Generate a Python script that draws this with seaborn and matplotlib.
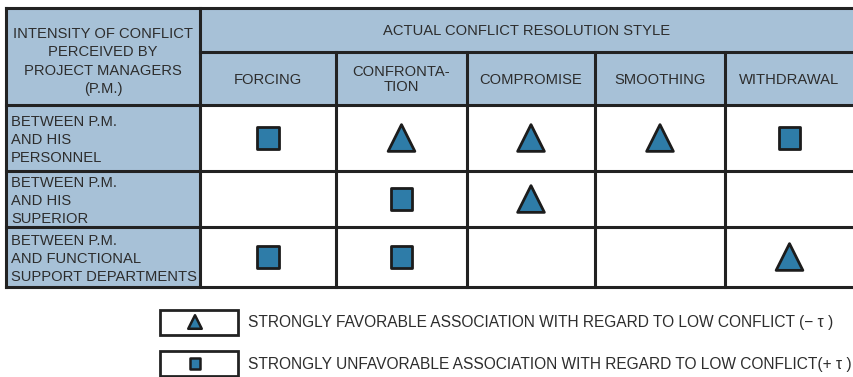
import pandas as pd
import seaborn as sns
import matplotlib.pyplot as plt
from matplotlib.patches import Rectangle

# Table content
styles = ["FORCING", "CONFRONTA-\nTION", "COMPROMISE", "SMOOTHING", "WITHDRAWAL"]
levels = ["BETWEEN P.M.\nAND HIS\nPERSONNEL",
          "BETWEEN P.M.\nAND HIS\nSUPERIOR",
          "BETWEEN P.M.\nAND FUNCTIONAL\nSUPPORT DEPARTMENTS"]
# "-" = strongly favorable (-tau, triangle), "+" = strongly unfavorable (+tau, square)
personnel = ["+", "-", "-", "-", "+"]
superior = ["", "+", "-", "", ""]
functional = ["+", "+", "", "", "-"]
legend_tau = ["-", "+"]
legend_text = ["STRONGLY FAVORABLE ASSOCIATION WITH REGARD TO LOW CONFLICT (\u2212 \u03c4 )",
               "STRONGLY UNFAVORABLE ASSOCIATION WITH REGARD TO LOW CONFLICT(+ \u03c4 )"]

# layout (pixels)
W, H = 854, 377
col_edges = [200, 336, 467, 595, 725, 854]
row_edges = [105, 171, 227, 287]
left, top, head_mid = 6, 8, 52
header_blue = "#a7c1d7"
mark_blue = "#2e7ca8"
line_c = "#222222"
text_c = "#2d2d2d"
fs = 10.6

plt.rcParams['font.family'] = ['Liberation Sans', 'DejaVu Sans']

fig = plt.figure(figsize=(W / 100, H / 100), dpi=100)
ax = fig.add_axes([0, 0, 1, 1])
ax.set_xlim(0, W)
ax.set_ylim(H, 0)
ax.axis("off")

# backgrounds
ax.add_patch(Rectangle((left, top), col_edges[0] - left, row_edges[-1] - top, fc=header_blue, ec="none"))
ax.add_patch(Rectangle((col_edges[0], top), W - col_edges[0], row_edges[0] - top, fc=header_blue, ec="none"))

lw = 2.2
ax.plot([left, W], [top, top], color=line_c, lw=lw)
ax.plot([left, left], [top, row_edges[-1]], color=line_c, lw=lw)
ax.plot([col_edges[0], W], [head_mid, head_mid], color=line_c, lw=lw)
for y in row_edges:
    ax.plot([left, W], [y, y], color=line_c, lw=lw)
ax.plot([col_edges[0], col_edges[0]], [top, row_edges[-1]], color=line_c, lw=lw)
for x in col_edges[1:-1]:
    ax.plot([x, x], [head_mid, row_edges[-1]], color=line_c, lw=lw)

# header text
ax.text((left + col_edges[0]) / 2, (top + row_edges[0]) / 2 + 5,
        "INTENSITY OF CONFLICT\nPERCEIVED BY\nPROJECT MANAGERS\n(P.M.)",
        ha="center", va="center", fontsize=fs, color=text_c, linespacing=1.42)
ax.text((col_edges[0] + W) / 2, (top + head_mid) / 2 + 1, "ACTUAL CONFLICT RESOLUTION STYLE",
        ha="center", va="center", fontsize=fs, color=text_c)
col_x = [(a + b) / 2 for a, b in zip(col_edges[:-1], col_edges[1:])]
row_y = [(a + b) / 2 for a, b in zip(row_edges[:-1], row_edges[1:])]
for x, s in zip(col_x, styles):
    ax.text(x, (head_mid + row_edges[0]) / 2 + 1, s, ha="center", va="center",
            fontsize=fs, color=text_c, linespacing=1.05)
for y, s in zip(row_y, levels):
    ax.text(left + 5, y + 2, s, ha="left", va="center", fontsize=fs,
            color=text_c, linespacing=1.36)

# markers
records = []
for ri, vals in enumerate([personnel, superior, functional]):
    for ci, v in enumerate(vals):
        if v:
            records.append({"x": col_x[ci], "y": row_y[ri], "tau": v})
df = pd.DataFrame(records)
sns.scatterplot(data=df, x="x", y="y", style="tau", size="tau",
                markers={"-": "^", "+": "s"}, sizes={"-": 370, "+": 240},
                color=mark_blue, edgecolor="#1c1c1c", linewidth=2,
                legend=False, ax=ax, zorder=3)

# legend block
box_x0, box_x1 = 160, 238
leg_y = [322, 363.5]
box_h = 25
for y, t in zip(leg_y, legend_text):
    ax.add_patch(Rectangle((box_x0, y - box_h / 2), box_x1 - box_x0, box_h,
                           fc="white", ec=line_c, lw=2))
    ax.text(248, y + 1, t, ha="left", va="center", fontsize=11.2, color=text_c)
leg_df = pd.DataFrame({"x": [(box_x0 + box_x1) / 2 - 4] * 2, "y": leg_y, "tau": legend_tau})
sns.scatterplot(data=leg_df, x="x", y="y", style="tau", size="tau",
                markers={"-": "^", "+": "s"}, sizes={"-": 95, "+": 60},
                color=mark_blue, edgecolor="#1c1c1c", linewidth=1.8,
                legend=False, ax=ax, zorder=3)
ax.set_xlabel("")
ax.set_ylabel("")

fig.savefig("out.png", dpi=100)
